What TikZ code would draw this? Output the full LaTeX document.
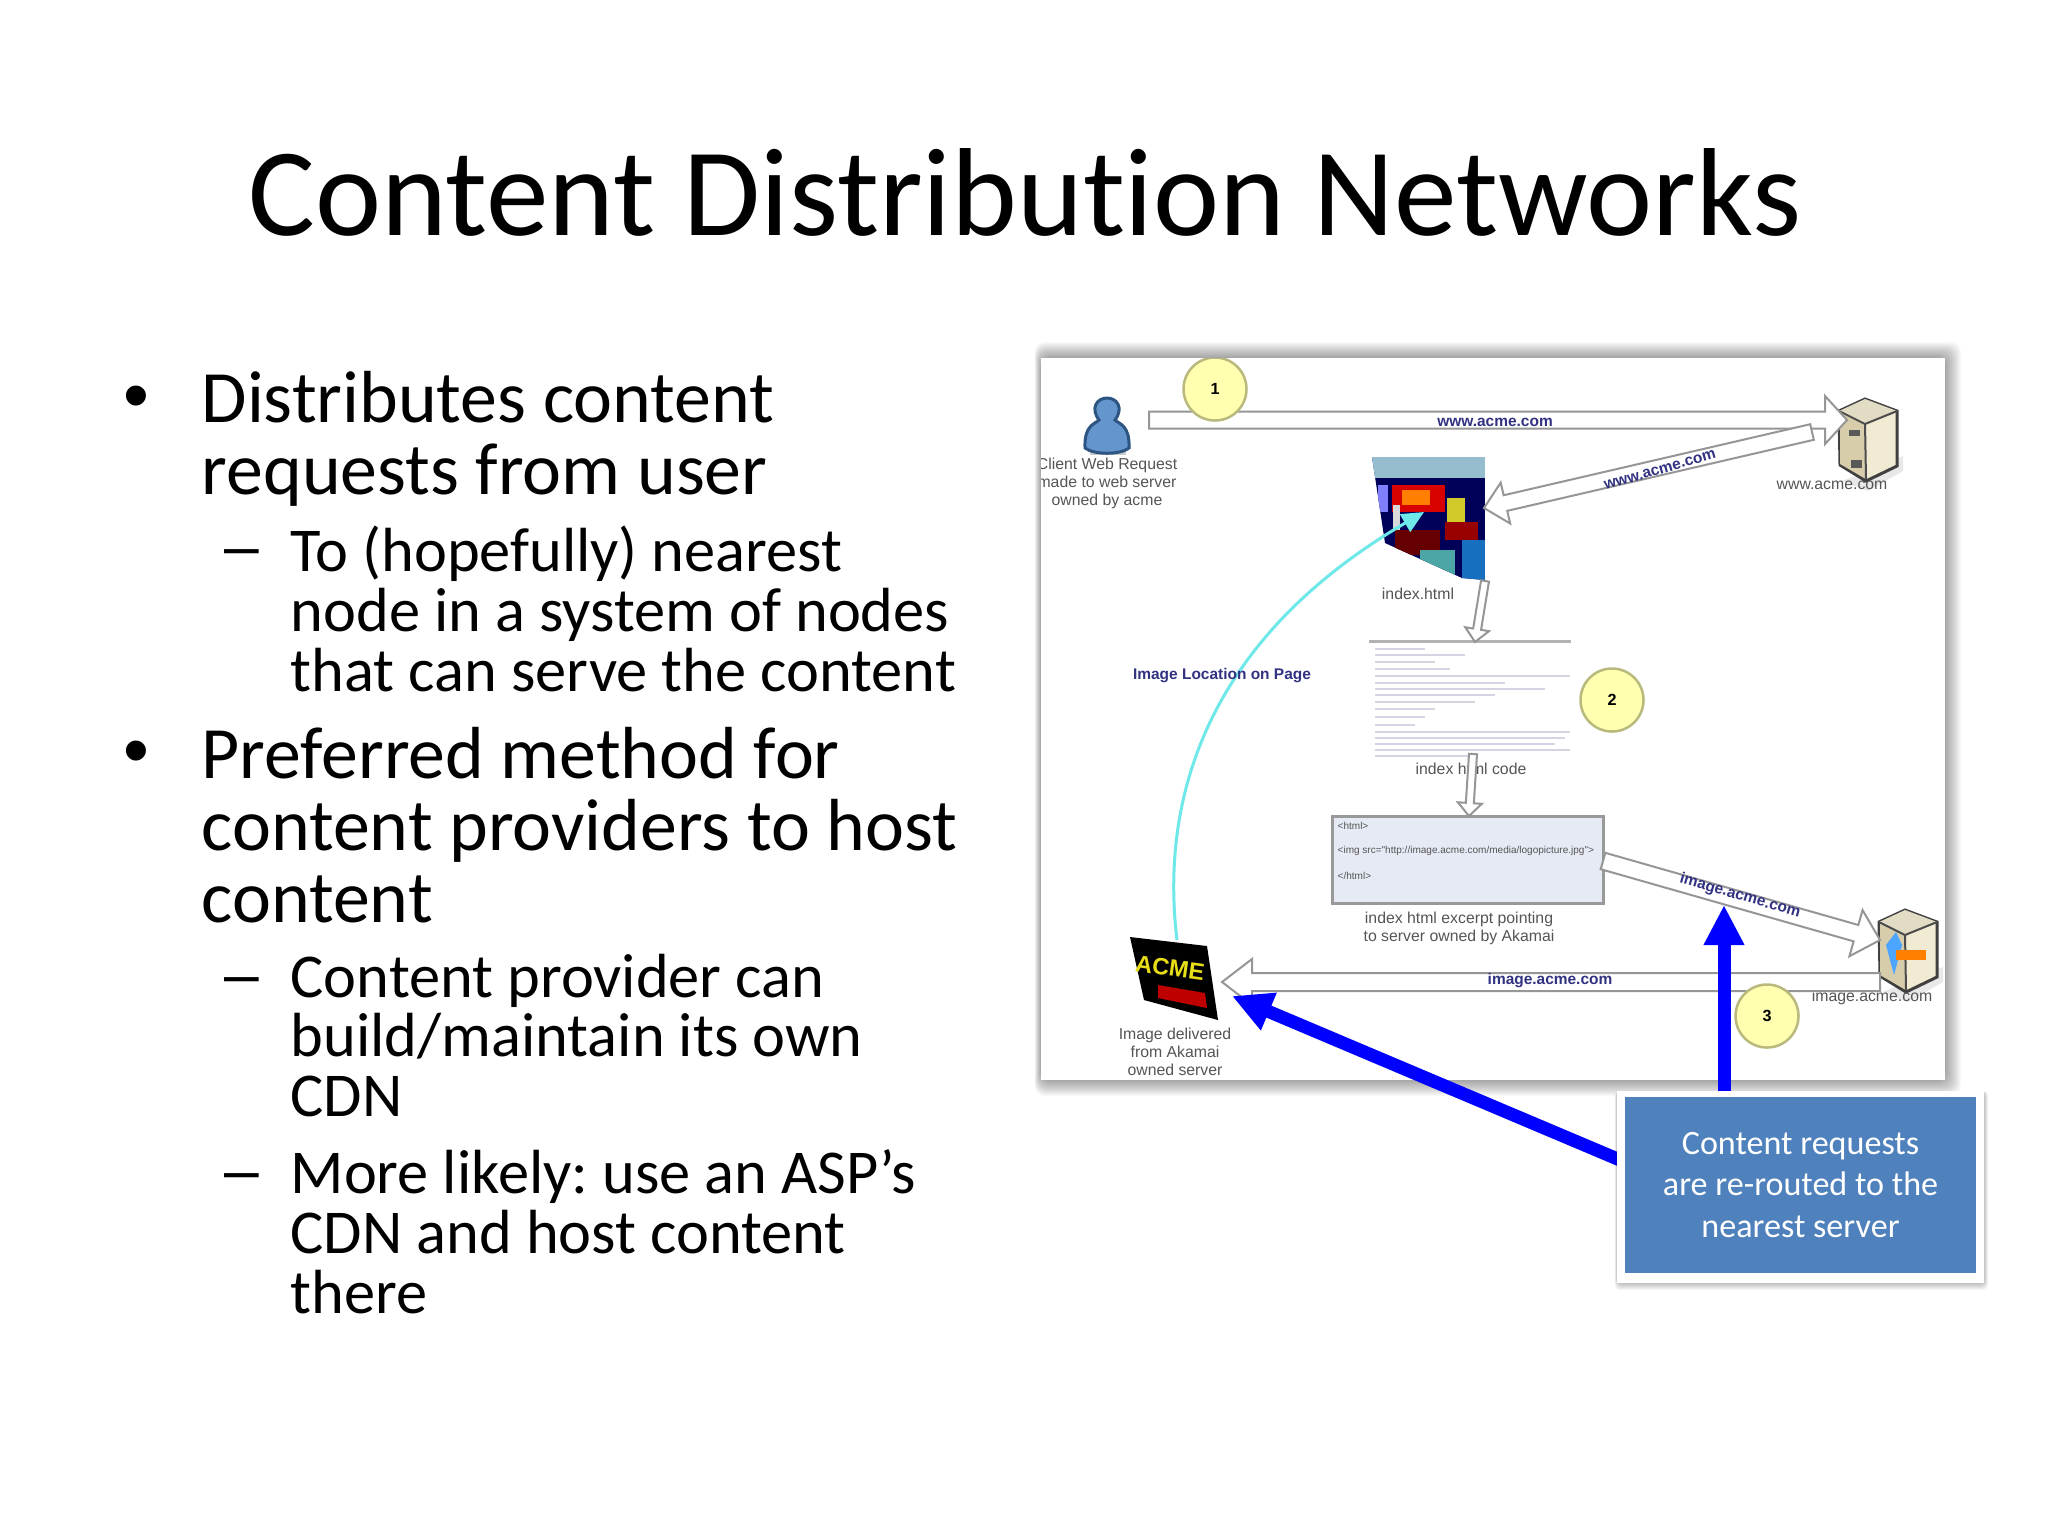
\documentclass[tikz,border=0pt]{standalone}
\usepackage{fontspec}
\setmainfont[Ligatures=NoCommon]{Carlito}
\newfontfamily\shotfont{Liberation Sans}
\frenchspacing
\usetikzlibrary{calc,arrows.meta}
\definecolor{noteBlue}{RGB}{79,129,189}
\definecolor{stepYellow}{RGB}{255,255,175}
\definecolor{stepEdge}{RGB}{185,185,125}
\definecolor{shotText}{RGB}{85,85,85}
\definecolor{flowText}{RGB}{50,50,130}
\definecolor{flowEdge}{RGB}{150,150,150}
\definecolor{excerptFill}{RGB}{230,234,245}
\definecolor{curveCyan}{RGB}{110,232,232}
\definecolor{serverTan}{RGB}{215,205,170}
\definecolor{serverLight}{RGB}{240,235,210}
\definecolor{clientBlue}{RGB}{100,150,205}
\definecolor{clientEdge}{RGB}{45,85,130}
\tikzset{
    % Styles for the slide text
    bullet text/.style={
        anchor=north west, inner sep=0pt, align=left,
        font=\fontsize{21}{20.4}\selectfont
    },
    sub text/.style={
        anchor=north west, inner sep=0pt, align=left,
        font=\fontsize{17.75}{17.05}\selectfont
    },
    bullet mark/.style={inner sep=0pt, font=\shotfont\fontsize{21}{21}\selectfont},
    sub mark/.style={inner sep=0pt, font=\shotfont\fontsize{17.75}{18}\selectfont},
    % Styles for the screenshot
    shot label/.style={
        inner sep=0pt, align=center, text=shotText,
        font=\shotfont\fontsize{4.5}{5.1}\selectfont
    },
    flow label/.style={
        inner sep=0pt, text=flowText,
        font=\shotfont\bfseries\fontsize{4.4}{5}\selectfont
    },
    tag label/.style={
        inner sep=0pt, text=shotText, anchor=west,
        font=\shotfont\fontsize{2.85}{3}\selectfont
    },
    step mark/.style={
        circle, draw=stepEdge, fill=stepYellow, line width=0.25mm,
        minimum size=6.3mm, inner sep=0pt,
        font=\shotfont\bfseries\fontsize{4.6}{5}\selectfont
    },
    flow arrow/.style={draw=flowEdge, fill=white, line width=0.2mm},
    reroute/.style={
        draw=blue, line width=1.3mm,
        -{Triangle[length=4mm,width=3.8mm]}
    },
    server/.pic={
        \fill[black!25,opacity=0.35] (-28,40) -- (-2,50) -- (33,30) -- (33,15) -- cycle;
        \draw[black!75,line width=0.3mm,fill=serverLight]
            (-31,-30) -- (-5,-42) -- (27,-30) -- (27,25) -- (-4,40) -- (-30,24) -- cycle;
        \fill[serverTan] (-30,-28) -- (-5,-17) -- (-4,38) -- (-30,23) -- cycle;
        \fill[serverTan!70!white] (-31,-30) -- (-5,-42) -- (27,-30) -- (-5,-17) -- cycle;
        \draw[black!70,line width=0.2mm] (-31,-30) -- (-5,-17) -- (27,-30) (-5,-17) -- (-4,38);
    }
}
% Outlined block arrow: from, to, half width, head half width, head length
\newcommand{\blockarrow}[5]{
    \coordinate (neck) at ($(#2)!#5!(#1)$);
    \draw[flow arrow] ($(#1)!#3!90:(#2)$) -- ($(neck)!#3!90:(#2)$)
        -- ($(neck)!#4!90:(#2)$) -- (#2) -- ($(neck)!#4!-90:(#2)$)
        -- ($(neck)!#3!-90:(#2)$) -- ($(#1)!#3!-90:(#2)$) -- cycle;
}
\begin{document}
\begin{tikzpicture}[x=0.1mm,y=-0.1mm]

% Set the canvas size
\path[use as bounding box] (0,0) rectangle (2048,1536);
\fill[white] (0,0) rectangle (2048,1536);

% Title
\node[inner sep=0pt,font=\fontsize{35.65}{40}\selectfont] (title) at (1025,192) {Content Distribution Networks};

% Left column
\node[bullet mark] (dot1) at (136,403) {•};
\node[bullet text] (point1) at (201,371) {Distributes content\\requests from user};
\node[sub mark] (dash1) at (242,559) {–};
\node[sub text] (sub1) at (290,525) {To (hopefully) nearest\\node in a system of nodes\\that can serve the content};
\node[bullet mark] (dot2) at (136,758) {•};
\node[bullet text] (point2) at (201,727) {Preferred method for\\content providers to host\\content};
\node[sub mark] (dash2) at (242,987) {–};
\node[sub text] (sub2) at (290,953) {Content provider can\\build/maintain its own\\CDN};
\node[sub mark] (dash3) at (242,1183) {–};
\node[sub text] (sub3) at (290,1149) {More likely: use an ASP’s\\CDN and host content\\there};

% Soft shadow of the screenshot
\foreach \s in {1,2,...,16}{
    \fill[black,opacity=0.022,rounded corners=1mm] (1041-0.4*\s,358-\s) rectangle (1945+\s,1080+\s);
}
\fill[white] (1041,358) rectangle (1945,1080);

\begin{scope}
\clip (1041,358) rectangle (1945,1080);

% Client
\fill[black!20] (1090,452) rectangle (1126,455);
\draw[clientEdge,fill=clientBlue,line width=0.3mm] (1085,448) .. controls (1084,425) and (1095,424) .. (1099,420)
    .. controls (1090,408) and (1097,398) .. (1107,398) .. controls (1117,398) and (1124,408) .. (1115,420)
    .. controls (1119,424) and (1130,425) .. (1129,448) .. controls (1120,455) and (1094,455) .. (1085,448) -- cycle;
\node[shot label] (client) at (1107,483) {Client Web Request\\made to web server\\owned by acme};

% Servers
\path (1870,441) pic {server};
\fill[black!65] (1849,430) rectangle (1860,436);
\fill[black!65] (1851,460) rectangle (1862,468);
\node[shot label] (web label) at (1832,485) {www.acme.com};
\path (1910,952) pic {server};
\fill[blue!50!cyan!70] (1886,945) -- (1896,932) -- (1902,945) -- (1894,975) -- cycle;
\fill[orange] (1896,950) rectangle (1926,960);
\node[shot label] (image label) at (1872,997) {image.acme.com};

% Page thumbnail
\begin{scope}
\clip (1372,457) -- (1485,457) -- (1485,580) -- (1462,578) -- (1385,543) -- cycle;
\fill[blue!35!black] (1372,457) rectangle (1485,580);
\fill[gray!60!cyan!70] (1372,457) rectangle (1485,478);
\fill[red!85!black] (1392,485) rectangle (1445,512);
\fill[orange] (1402,490) rectangle (1430,505);
\fill[yellow!80!black] (1447,498) rectangle (1465,522);
\fill[red!60!black] (1445,522) rectangle (1478,540);
\fill[cyan!50!blue] (1462,540) rectangle (1485,580);
\fill[red!40!black] (1395,530) rectangle (1440,555);
\fill[gray!30] (1393,505) rectangle (1400,530);
\fill[blue!50] (1378,485) rectangle (1388,512);
\fill[teal!70] (1420,550) rectangle (1455,575);
\end{scope}
\node[shot label] (page label) at (1418,594) {index.html};

% Source listing
\fill[gray!60] (1369,640) rectangle (1571,643);
\foreach \y/\w in {648/50,654/90,661/60,668/75,675/195,682/130,688/170,694/120,701/100,708/60,716/50,724/40,731/195,737/190,743/180,749/195,755/100}{
    \fill[blue!20!gray!28] (1375,\y) rectangle ++(\w,2);
}
\node[shot label] (listing label) at (1471,769) {index html code};
\node[step mark] (step2) at (1612,700) {2};

% Excerpt
\node[draw=black!40,fill=excerptFill,line width=0.25mm,minimum width=27.1mm,minimum height=8.7mm,inner sep=0pt] (excerpt) at (1468,860) {};
\node[tag label] (open tag) at (1337,826) {<html>};
\node[tag label] (img tag) at (1337,851) {<img src="http://image.acme.com/media/logopicture.jpg">};
\node[tag label] (close tag) at (1337,876) {</html>};
\node[shot label] (excerpt label) at (1459,928) {index html excerpt pointing\\to server owned by Akamai};

% Delivered image
\fill[black] (1130,937) -- (1207,946) -- (1218,1020) -- (1144,1000) -- cycle;
\fill[red!75!black] (1158,985) -- (1205,993) -- (1207,1008) -- (1158,998) -- cycle;
\node[inner sep=0pt,rotate=-8,text=yellow!90!black,font=\shotfont\bfseries\fontsize{6.7}{7}\selectfont] (acme) at (1170,968) {ACME};
\node[shot label] (delivered label) at (1175,1052) {Image delivered\\from Akamai\\owned server};

% Flow arrows
\coordinate (request start) at (1149,420);
\coordinate (request end) at (1847,420);
\coordinate (reply start) at (1812,432);
\coordinate (reply end) at (1484,508);
\coordinate (page down start) at (1485,581);
\coordinate (page down end) at (1475,642);
\coordinate (code down start) at (1473,754);
\coordinate (code down end) at (1469,816);
\coordinate (fetch start) at (1603,861);
\coordinate (fetch end) at (1880,940);
\coordinate (deliver start) at (1880,982);
\coordinate (deliver end) at (1222,982);
\blockarrow{request start}{request end}{0.85mm}{2.4mm}{2.2mm}
\blockarrow{reply start}{reply end}{0.8mm}{2.1mm}{2.2mm}
\blockarrow{page down start}{page down end}{0.4mm}{1.2mm}{1.3mm}
\blockarrow{code down start}{code down end}{0.4mm}{1.2mm}{1.3mm}
\blockarrow{fetch start}{fetch end}{0.85mm}{2.4mm}{2.5mm}
\blockarrow{deliver start}{deliver end}{0.9mm}{2.3mm}{3mm}
\node[flow label] (request label) at (1495,422) {www.acme.com};
\node[flow label,rotate=16] (reply label) at (1660,470) {www.acme.com};
\node[flow label,rotate=-16] (fetch label) at (1740,896) {image.acme.com};
\node[flow label] (deliver label) at (1550,981) {image.acme.com};

% Image location curve
\coordinate (curve start) at (1177,940);
\coordinate (curve end) at (1424,512);
\draw[curveCyan,line width=0.3mm,-{Triangle[length=2.2mm,width=2mm]}] (curve start)
    .. controls (1160,800) and (1205,640) .. (curve end);
\node[flow label] (curve label) at (1222,676) {Image Location on Page};

\node[step mark] (step1) at (1215,389) {1};
\node[step mark] (step3) at (1767,1016) {3};
\end{scope}

% Blue arrows and the note
\coordinate (up start) at (1724,1095);
\coordinate (up end) at (1724,905);
\coordinate (left start) at (1620,1160);
\coordinate (left end) at (1232,996);
\draw[reroute] (up start) -- (up end);
\draw[reroute] (left start) -- (left end);

\foreach \s in {1,2,...,7}{
    \fill[black,opacity=0.035,rounded corners=0.5mm] (1617-0.3*\s,1091) rectangle (1984+0.6*\s,1283+\s);
}
\fill[white] (1617,1091) rectangle (1984,1283);
\node[fill=noteBlue,text=white,minimum width=35.1mm,minimum height=17.6mm,inner sep=0pt,align=center,
    font=\fontsize{9.7}{11.9}\selectfont] (note) at (1800.5,1185) {Content requests\\are re-routed to the\\nearest server};

\end{tikzpicture}
\end{document}
